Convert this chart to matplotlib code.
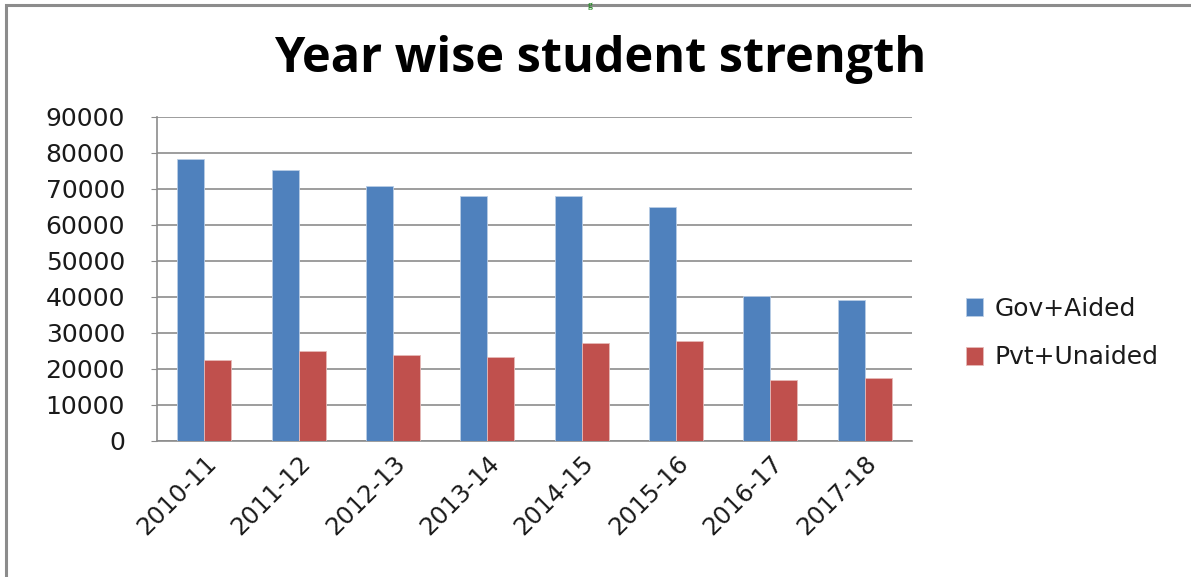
import numpy as np
import matplotlib
matplotlib.use('Agg')
import matplotlib.pyplot as plt
from matplotlib.patches import Rectangle

# Data
years = ['2010-11', '2011-12', '2012-13', '2013-14', '2014-15', '2015-16', '2016-17', '2017-18']
gov_aided = [78300, 75400, 70800, 68000, 68000, 65100, 40300, 39100]
pvt_unaided = [22500, 25000, 24000, 23300, 27200, 27800, 16900, 17600]

W, H = 1191, 577
fig = plt.figure(figsize=(W / 100, H / 100), dpi=100)

# outer frame of the embedded chart
fig.patches.append(Rectangle((6 / W, -0.05), 1.2, (H - 5) / H + 0.05, transform=fig.transFigure,
                             fill=False, edgecolor='#8c8c8c', linewidth=2.2))
# heading fragment above the frame
fig.text(590 / W, 1 - 1 / H, 'g', color='#2e8b2e', fontsize=7, fontweight='bold',
         ha='center', va='top', family='Liberation Serif')

ax = fig.add_axes([157 / W, 1 - 441 / H, (912 - 157) / W, (441 - 117) / H])

x = np.arange(len(years))
bw = 0.286
ax.bar(x - bw / 2, gov_aided, bw, color='#4f81bd', edgecolor='#b9cde5', linewidth=0.6, label='Gov+Aided', zorder=3)
ax.bar(x + bw / 2, pvt_unaided, bw, color='#c0504d', edgecolor='#e6b9b8', linewidth=0.6, label='Pvt+Unaided', zorder=3)

ax.set_xlim(-0.5, len(years) - 0.5)
ax.set_ylim(0, 90000)
ax.set_yticks(range(0, 90001, 10000))
ax.yaxis.grid(True, color='#8c8c8c', linewidth=1.2, zorder=0)
ax.set_axisbelow(True)

for side in ['top', 'right']:
    ax.spines[side].set_visible(False)
for side in ['left', 'bottom']:
    ax.spines[side].set_color('#8c8c8c')
    ax.spines[side].set_linewidth(1.2)

ax.tick_params(axis='y', length=4, color='#8c8c8c', labelsize=18, pad=19, labelcolor='#1a1a1a')
ax.tick_params(axis='x', length=0, labelsize=17.5, pad=7, labelcolor='#1a1a1a')
ax.set_xticks(x)
ax.set_xticklabels(years, rotation=45, ha='right', rotation_mode='anchor')

fig.text(600 / W, 1 - 59 / H, 'Year wise student strength', fontsize=35, fontweight='bold',
         family='Open Sans', ha='center', va='center', color='black')

ax.legend(loc='center left', bbox_to_anchor=(943 / W, 1 - 333 / H), bbox_transform=fig.transFigure,
          frameon=False, fontsize=18, handlelength=0.7, handleheight=0.7, handletextpad=0.45,
          labelspacing=1.0, labelcolor='#1a1a1a')

plt.savefig('out.png', dpi=100)
